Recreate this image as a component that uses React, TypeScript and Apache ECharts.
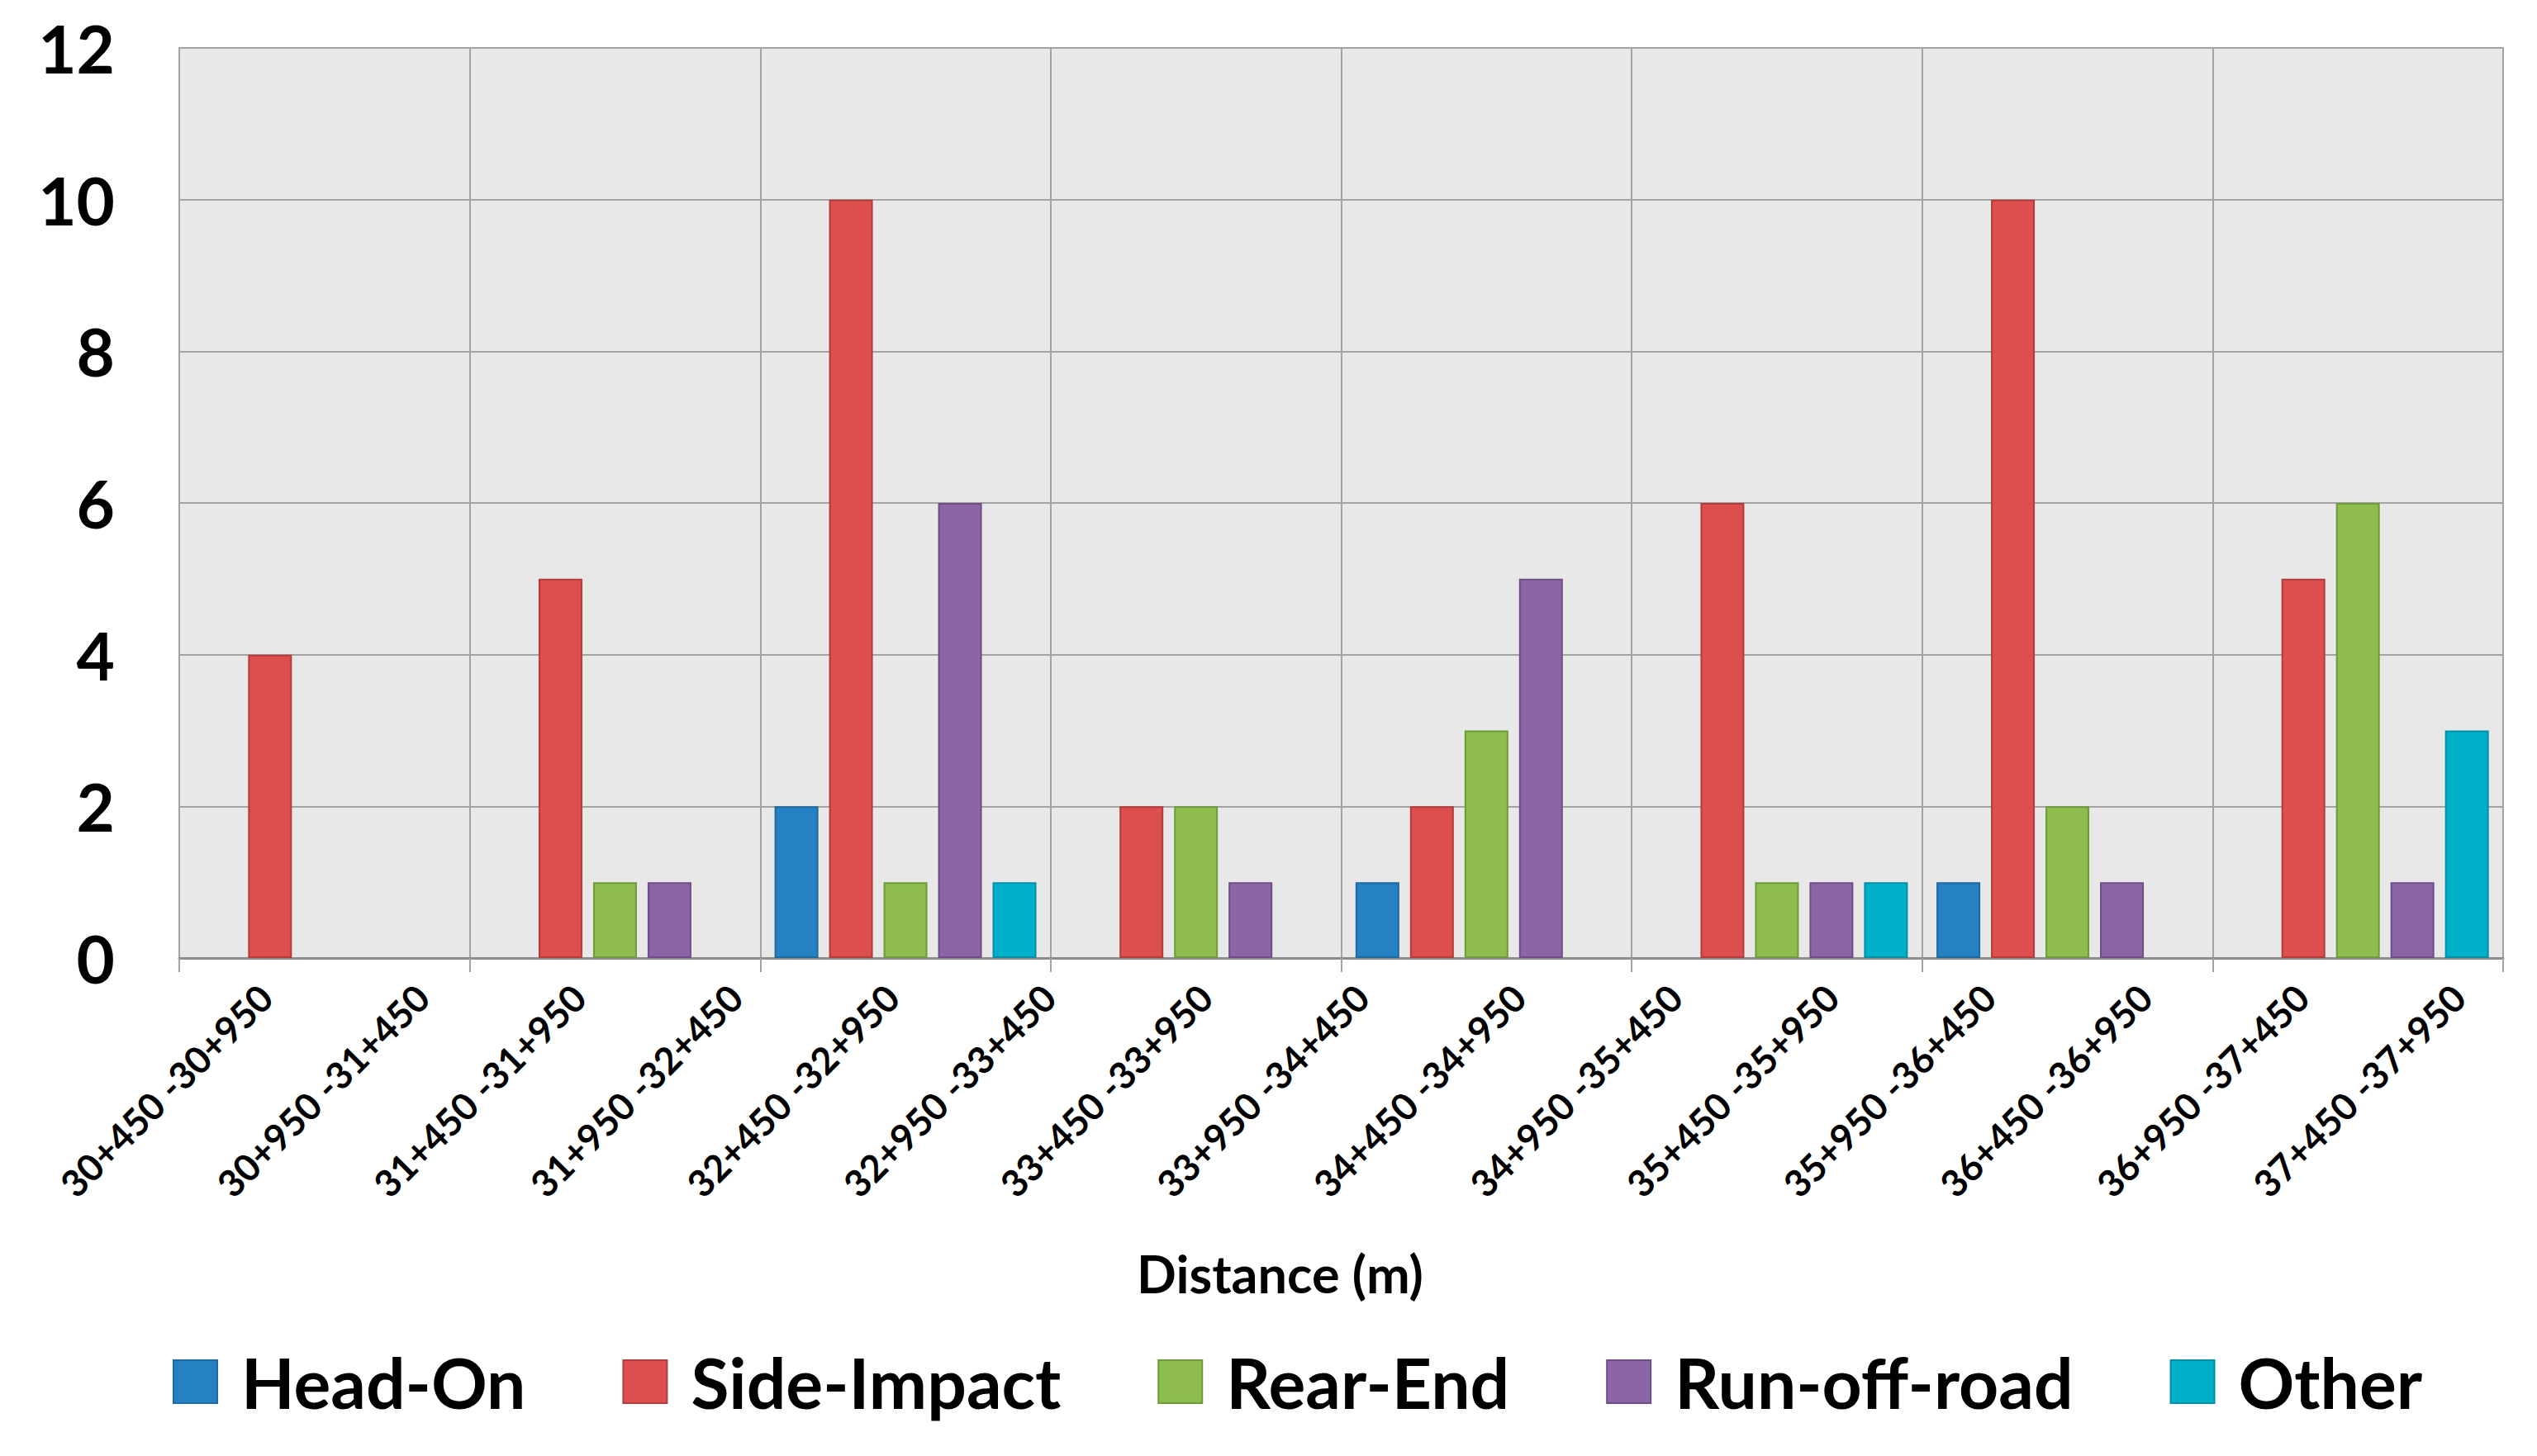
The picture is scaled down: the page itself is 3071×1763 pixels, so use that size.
import React, { useEffect, useRef } from "react";
import * as echarts from "echarts";

const segmentLabels = [
  "30+450 -30+950", "30+950 -31+450", "31+450 -31+950", "31+950 -32+450",
  "32+450 -32+950", "32+950 -33+450", "33+450 -33+950", "33+950 -34+450",
  "34+450 -34+950", "34+950 -35+450", "35+450 -35+950", "35+950 -36+450",
  "36+450 -36+950", "36+950 -37+450", "37+450 -37+950",
];
const groups = [
  "30+450 -31+450", "31+450 -32+450", "32+450 -33+450", "33+450 -34+450",
  "34+450 -35+450", "35+450 -36+450", "36+450 -37+450", "37+450 -37+950",
];
const seriesNames = ["Head-On", "Side-Impact", "Rear-End", "Run-off-road", "Other"];
const headOn = [0, 0, 2, 0, 1, 0, 1, 0];
const sideImpact = [4, 5, 10, 2, 2, 6, 10, 5];
const rearEnd = [0, 1, 1, 2, 3, 1, 2, 6];
const runOffRoad = [0, 1, 6, 1, 5, 1, 1, 1];
const other = [0, 0, 1, 0, 0, 1, 0, 3];
const yTicks = { min: 0, max: 12, interval: 2 };

const colors = ["#2581c1", "#dd4f4e", "#8dbd4f", "#8c65a6", "#00afc8"];
const borders = ["#1d6aa0", "#b33b3a", "#6f9a3a", "#6e4d87", "#0090a5"];
const FONT = "Lato";

export default function App() {
  const ref = useRef<HTMLDivElement>(null);
  useEffect(() => {
    if (!ref.current) return;
    const chart = echarts.init(ref.current, null, { renderer: "svg" });
    const values = [headOn, sideImpact, rearEnd, runOffRoad, other];
    chart.setOption({
      animation: false,
      backgroundColor: "#ffffff",
      textStyle: { fontFamily: FONT },
      grid: [
        {
          left: 217,
          right: 41,
          top: 58,
          bottom: 603,
          show: true,
          backgroundColor: "#e8e8e8",
          borderColor: "#a3a3a3",
          borderWidth: 2,
        },
        { left: 227, width: 2882, top: 58, bottom: 603, show: false },
      ],
      legend: {
        data: seriesNames,
        left: 204,
        top: 1626,
        icon: "rect",
        itemWidth: 53,
        itemHeight: 52,
        itemGap: 117,
        textStyle: {
          fontFamily: FONT,
          fontWeight: "bold",
          fontSize: 84,
          color: "#000",
          padding: [0, 0, 0, 24],
        },
      },
      xAxis: [
        {
          type: "category",
          gridIndex: 0,
          data: groups,
          position: "bottom",
          axisLine: { show: true, lineStyle: { color: "#8c8c8c", width: 3 } },
          axisTick: { show: true, interval: 0, length: 17, lineStyle: { color: "#a3a3a3", width: 2 } },
          axisLabel: { show: false },
          splitLine: { show: true, interval: 0, lineStyle: { color: "#a3a3a3", width: 2 } },
          name: "Distance (m)",
          nameLocation: "middle",
          nameGap: 350,
          nameTextStyle: {
            fontFamily: FONT,
            fontWeight: "bold",
            fontSize: 63,
            color: "#000",
            padding: [0, 148, 0, 0],
          },
        },
        {
          type: "category",
          gridIndex: 1,
          data: segmentLabels,
          position: "bottom",
          axisLine: { show: false },
          axisTick: { show: false },
          splitLine: { show: false },
          axisLabel: {
            interval: 0,
            rotate: 45,
            margin: 40,
            fontFamily: FONT,
            fontWeight: "bold",
            fontSize: 45,
            color: "#000",
          },
        },
      ],
      yAxis: [
        {
          type: "value",
          gridIndex: 0,
          min: yTicks.min,
          max: yTicks.max,
          interval: yTicks.interval,
          axisLine: { show: false },
          axisTick: { show: false },
          axisLabel: {
            margin: 78,
            fontFamily: FONT,
            fontWeight: "bold",
            fontSize: 80,
            color: "#000",
          },
          splitLine: { show: true, lineStyle: { color: "#a3a3a3", width: 2 } },
        },
        { type: "value", gridIndex: 1, show: false, min: 0, max: 12 },
      ],
      series: seriesNames.map((name, i) => ({
        name,
        type: "bar",
        xAxisIndex: 0,
        yAxisIndex: 0,
        barWidth: 53,
        barGap: "24.5%",
        itemStyle: { color: colors[i], borderColor: borders[i], borderWidth: 2 },
        data: values[i].map((v) =>
          v === 0 ? { value: 0, itemStyle: { borderWidth: 0, opacity: 0 } } : v
        ),
      })),
    });
    return () => chart.dispose();
  }, []);
  return (
    <div
      ref={ref}
      style={{ position: "fixed", left: 0, top: 0, width: 3071, height: 1763 }}
    />
  );
}
